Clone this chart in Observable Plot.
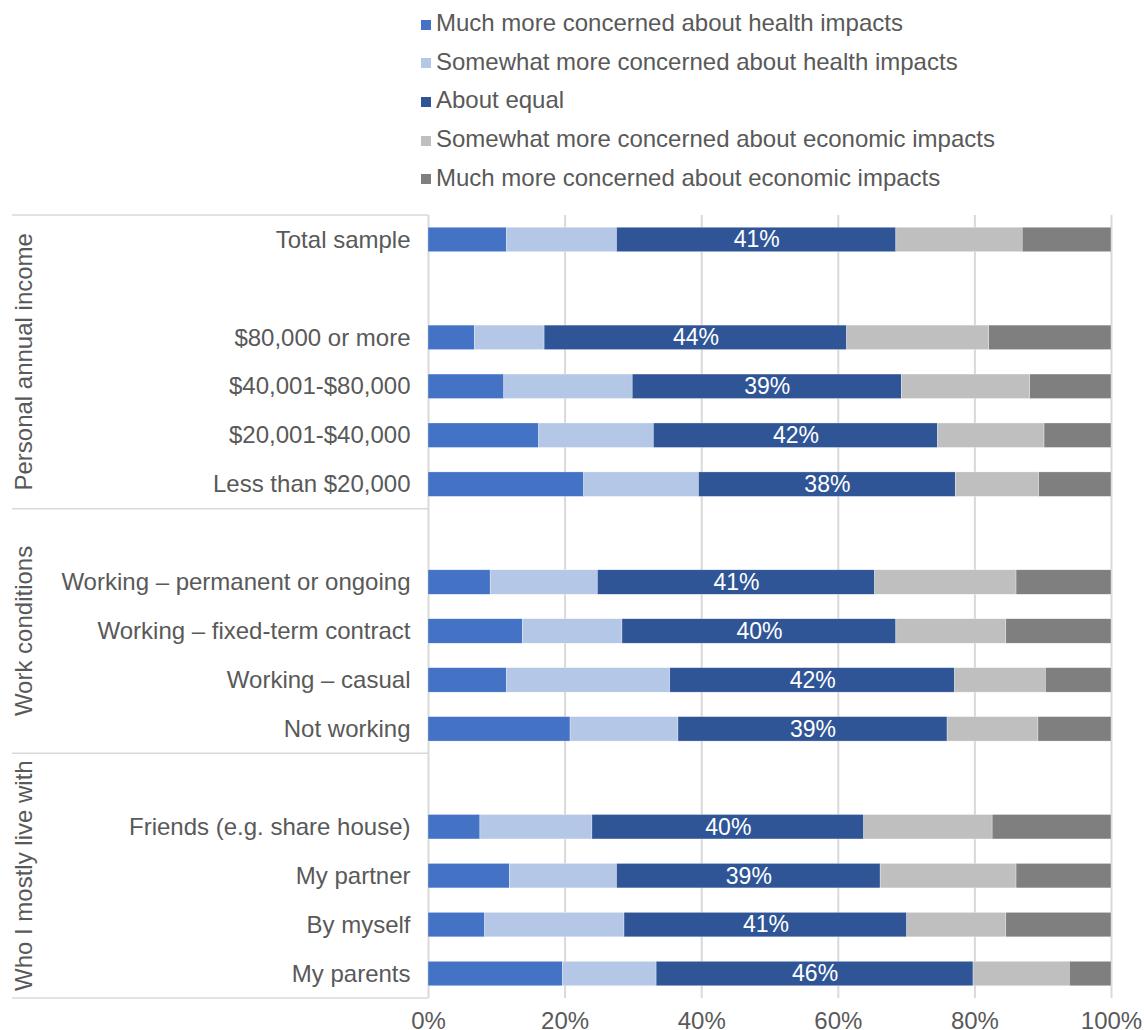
<!DOCTYPE html>
<html><head><meta charset="utf-8">
<script src="https://cdn.jsdelivr.net/npm/d3@7"></script>
<script src="https://cdn.jsdelivr.net/npm/@observablehq/plot@0.6"></script>
<style>
html,body{margin:0;padding:0;background:#fff;}
body{width:1144px;height:1030px;overflow:hidden;font-family:"Liberation Sans",Arial,sans-serif;}
#legend{position:relative;height:200px;width:1144px;}
.sw{position:absolute;width:10px;height:10px;}
.lt{position:absolute;font-size:24px;line-height:24px;color:#595959;white-space:nowrap;}
#chart svg{display:block;}
</style></head><body>
<div id="legend"></div><div id="chart"></div>
<script>
const series = [
  "Much more concerned about health impacts",
  "Somewhat more concerned about health impacts",
  "About equal",
  "Somewhat more concerned about economic impacts",
  "Much more concerned about economic impacts"
];
const colors = ["#4472C4", "#B4C7E7", "#2F5597", "#BFBFBF", "#7F7F7F"];

const categories = [
  "Total sample",
  "$80,000 or more", "$40,001-$80,000", "$20,001-$40,000", "Less than $20,000",
  "Working – permanent or ongoing", "Working – fixed-term contract", "Working – casual", "Not working",
  "Friends (e.g. share house)", "My partner", "By myself", "My parents"
];
// row order including blank spacer rows
const rows = [
  "Total sample", "",
  "$80,000 or more", "$40,001-$80,000", "$20,001-$40,000", "Less than $20,000",
  " ", "Working – permanent or ongoing", "Working – fixed-term contract", "Working – casual", "Not working",
  "  ", "Friends (e.g. share house)", "My partner", "By myself", "My parents"
];
const groupLabels = ["Personal annual income", "Work conditions", "Who I mostly live with"];
const groupFirst = ["Total sample", " ", "  "];
const groupLast = ["Less than $20,000", "Not working", "My parents"];

const muchHealth = [11.5, 6.8, 11.1, 16.2, 22.8, 9.1, 13.8, 11.5, 20.8, 7.6, 11.9, 8.3, 19.7];
const someHealth = [16.1, 10.2, 18.8, 16.8, 16.8, 15.7, 14.6, 23.9, 15.8, 16.4, 15.7, 20.4, 13.7];
const aboutEqual = [40.9, 44.3, 39.4, 41.6, 37.6, 40.6, 40.1, 41.7, 39.4, 39.8, 38.6, 41.4, 46.4];
const someEcon   = [18.5, 20.8, 18.8, 15.6, 12.2, 20.7, 16.1, 13.3, 13.3, 18.8, 19.9, 14.5, 14.1];
const muchEcon   = [13.0, 17.9, 11.9,  9.8, 10.6, 13.9, 15.4,  9.6, 10.7, 17.4, 13.9, 15.4,  6.1];

const xTicks = [0, 20, 40, 60, 80, 100];

const seriesValues = [muchHealth, someHealth, aboutEqual, someEcon, muchEcon];
const data = [];
categories.forEach((c, i) => seriesValues.forEach((arr, j) => data.push({row: c, series: series[j], value: arr[i]})));

// legend
const leg = document.getElementById("legend");
series.forEach((s, i) => {
  const base = 30.5 + i * 38.7;
  const sw = document.createElement("div");
  sw.className = "sw";
  sw.style.left = "421px";
  sw.style.top = (base - 11) + "px";
  sw.style.background = colors[i];
  leg.appendChild(sw);
  const t = document.createElement("div");
  t.className = "lt";
  t.style.left = "436px";
  t.style.top = (base - 19.6) + "px";
  t.textContent = s;
  leg.appendChild(t);
});

const font = '"Liberation Sans", Arial, sans-serif';
const chart = Plot.plot({
  width: 1144, height: 830,
  marginTop: 15, marginBottom: 32, marginLeft: 428, marginRight: 33,
  style: {fontFamily: font, fontSize: "24px", color: "#595959", background: "white", overflow: "visible"},
  x: {domain: [0, 100], ticks: xTicks, tickFormat: d => d + "%", tickSize: 0, tickPadding: 13, label: null},
  y: {domain: rows, paddingInner: 0.5, paddingOuter: 0.25, round: false, tickSize: 0, tickPadding: 18, label: null},
  color: {domain: series, range: colors},
  marks: [
    Plot.ruleX(xTicks, {stroke: "#d9d9d9", strokeWidth: 2}),
    Plot.barX(data, {x: "value", y: "row", fill: "series", z: "series", order: series, stroke: "white", strokeWidth: 0.5, strokeOpacity: 0.6}),
    Plot.text(data, Plot.stackX({
      x: "value", y: "row", z: "series", order: series,
      text: d => d.series === "About equal" ? Math.round(d.value) + "%" : null,
      fill: "white", fontSize: 23
    }))
  ]
});
document.getElementById("chart").appendChild(chart);

// group frame lines and rotated group labels
const ys = chart.scale("y");
const step = ys.step, bw = ys.bandwidth;
const pos = v => ys.apply(v);
const topOf = r => pos(r) - (step - bw) / 2;
const botOf = r => pos(r) + bw + (step - bw) / 2;
const svg = d3.select(chart);
const g = svg.append("g");
const ylines = [topOf(groupFirst[0]), ...groupFirst.slice(1).map(topOf), botOf(groupLast[groupLast.length - 1])];
ylines.forEach(y => {
  g.append("line").attr("x1", 12).attr("x2", 428).attr("y1", y).attr("y2", y)
    .attr("stroke", "#d9d9d9").attr("stroke-width", 1.5);
});
groupLabels.forEach((lab, i) => {
  const cy = (topOf(groupFirst[i]) + botOf(groupLast[i])) / 2;
  g.append("text")
    .attr("transform", `translate(24,${cy}) rotate(-90)`)
    .attr("text-anchor", "middle")
    .attr("dy", "0.35em")
    .attr("fill", "#595959")
    .style("font-size", "24px")
    .style("font-family", font)
    .text(lab);
});
</script>
</body></html>
